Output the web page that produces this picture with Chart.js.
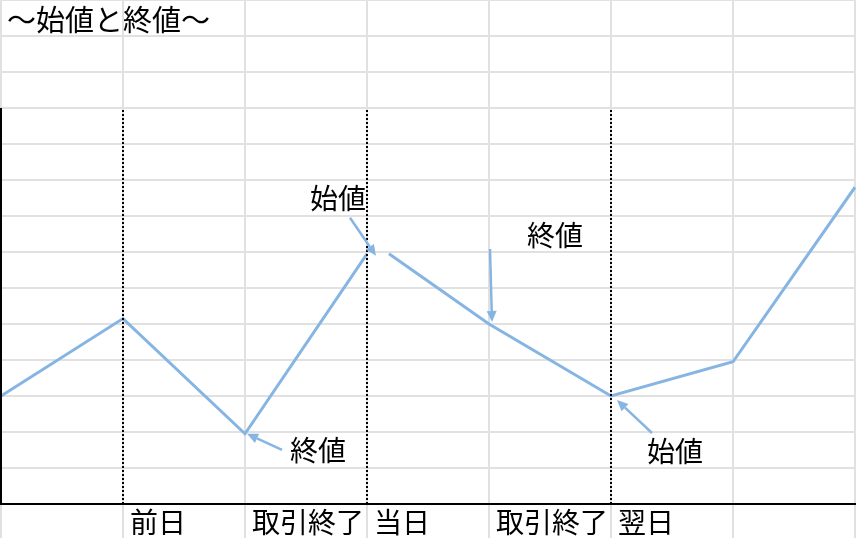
<!DOCTYPE html>
<html><head><meta charset="utf-8">
<script src="https://cdn.jsdelivr.net/npm/chart.js@4"></script>
<style>html,body{margin:0;padding:0;overflow:hidden;background:#fff}#wrap{width:856px;height:540px}</style>
</head><body><div id="wrap"><canvas id="c" width="856" height="540"></canvas></div>
<script>
// ---- data ----
const titleText = '〜始値と終値〜';
const columnLabels = ['', '前日', '取引終了', '当日', '取引終了', '翌日', ''];
const prevDayX = [0, 1, 2, 3];
const prevDayY = [3.0, 5.15, 1.95, 6.95];
const todayX = [3.18, 4, 5, 6, 7];
const todayY = [6.95, 5.0, 3.0, 3.95, 8.8];
const dividerX = [1, 3, 5];
const plotTop = 11;
const noteTexts = ['始値', '終値', '終値', '始値'];
const noteSeries = ['prev', 'today', 'prev', 'today'];
const noteIndex = [3, 1, 2, 2];

// ---- layout / style ----
const BLUE = '#86b5e3';
const FONT = '28px "Noto Sans CJK JP", "Noto Sans CJK SC", sans-serif';
const TITLE_FONT = '29px "Noto Sans CJK JP", "Noto Sans CJK SC", sans-serif';
const noteLayout = [
  {tip: [9, 2], tail: [-17, -36], label: [-29, -55]},
  {tip: [3, -2], tail: [1, -75], label: [66, -89]},
  {tip: [2, 0], tail: [37, 16], label: [73, 17]},
  {tip: [6, 4], tail: [41, 37], label: [64, 55]}
];

const pts = (xs, ys) => xs.map((x, i) => ({x, y: ys[i]}));
const series = {prev: pts(prevDayX, prevDayY), today: pts(todayX, todayY)};

const datasets = [
  {data: series.prev, borderColor: BLUE, borderWidth: 3, order: 2},
  {data: series.today, borderColor: BLUE, borderWidth: 3, order: 2}
];
dividerX.forEach(x => datasets.push({data: [{x, y: 0}, {x, y: plotTop}], borderColor: '#000', borderWidth: 2, borderDash: [2, 2], order: 1}));
datasets.push({data: [{x: 0, y: 0}, {x: 0, y: plotTop}], borderColor: '#000', borderWidth: 2, order: 0});
datasets.push({data: [{x: 0, y: 0}, {x: columnLabels.length, y: 0}], borderColor: '#000', borderWidth: 2, borderCapStyle: 'square', order: 0});
datasets.forEach(d => { d.showLine = true; d.pointRadius = 0; d.tension = 0; d.clip = false; d.fill = false; });

function arrow(ctx, x1, y1, x2, y2) {
  const a = Math.atan2(y2 - y1, x2 - x1), L = 11, W = 5;
  const bx = x2 - L * Math.cos(a), by = y2 - L * Math.sin(a);
  ctx.strokeStyle = BLUE; ctx.fillStyle = BLUE; ctx.lineWidth = 2.5;
  ctx.beginPath(); ctx.moveTo(x1, y1); ctx.lineTo(bx, by); ctx.stroke();
  ctx.beginPath(); ctx.moveTo(x2, y2);
  ctx.lineTo(bx + W * Math.sin(a), by - W * Math.cos(a));
  ctx.lineTo(bx - W * Math.sin(a), by + W * Math.cos(a));
  ctx.closePath(); ctx.fill();
}

const textPlugin = {
  id: 'texts',
  afterDraw(chart) {
    const ctx = chart.ctx, xs = chart.scales.x, ys = chart.scales.y;
    ctx.save();
    ctx.fillStyle = '#000'; ctx.textBaseline = 'middle';
    ctx.textAlign = 'left';
    ctx.font = TITLE_FONT;
    ctx.fillText(titleText, xs.getPixelForValue(0) + 6, (ys.getPixelForValue(ys.max) + ys.getPixelForValue(ys.max - 1)) / 2 + 2);
    ctx.font = FONT;
    const rowY = (ys.getPixelForValue(0) + ys.getPixelForValue(-1)) / 2;
    columnLabels.forEach((t, i) => { if (t) ctx.fillText(t, xs.getPixelForValue(i) + 7, rowY); });
    noteTexts.forEach((t, i) => {
      const p = series[noteSeries[i]][noteIndex[i]];
      const px = xs.getPixelForValue(p.x), py = ys.getPixelForValue(p.y);
      const L = noteLayout[i];
      arrow(ctx, px + L.tail[0], py + L.tail[1], px + L.tip[0], py + L.tip[1]);
      ctx.fillStyle = '#000'; ctx.textAlign = 'center';
      ctx.fillText(t, px + L.label[0], py + L.label[1]);
    });
    ctx.restore();
  }
};

const gridOpts = {color: '#e1e1e1', lineWidth: 2, drawTicks: false};
new Chart(document.getElementById('c'), {
  type: 'scatter',
  data: {datasets},
  options: {
    responsive: false, animation: false, devicePixelRatio: 1,
    layout: {padding: {left: 1, right: 1, top: 0, bottom: 0}},
    plugins: {legend: {display: false}, tooltip: {enabled: false}, title: {display: false}},
    scales: {
      x: {type: 'linear', min: 0, max: columnLabels.length, grid: gridOpts, border: {display: false},
          ticks: {display: false, stepSize: 1, includeBounds: false}, afterFit: s => { s.height = 0; }},
      y: {type: 'linear', min: -1, max: 14, grid: gridOpts, border: {display: false},
          ticks: {display: false, stepSize: 1, includeBounds: false}, afterFit: s => { s.width = 0; }}
    }
  },
  plugins: [textPlugin]
});
</script></body></html>
